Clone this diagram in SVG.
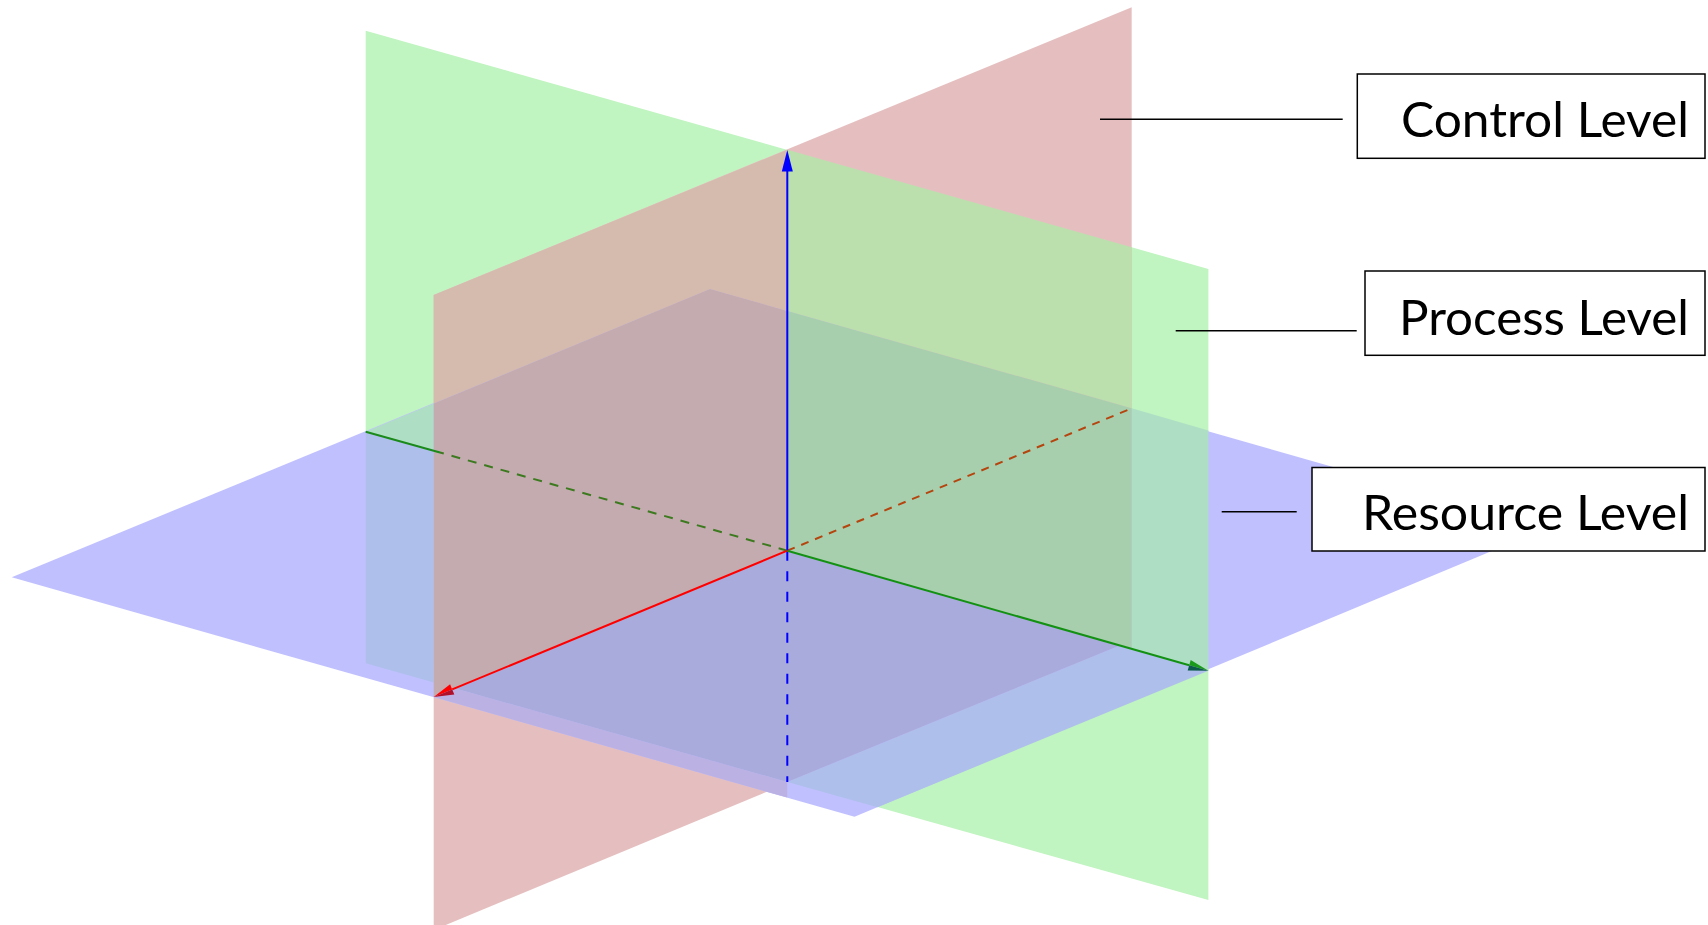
<svg xmlns="http://www.w3.org/2000/svg" width="1708" height="925" viewBox="0 0 1708 925">
<style>
.box{fill:#ffffff;stroke:#000000;stroke-width:1.5}
.lead{stroke:#000000;stroke-width:1.5;fill:none}
.lbl{font-family:Lato,"Open Sans","Liberation Sans",sans-serif;font-size:49px;fill:#000000}
.ax{fill:none;stroke-width:2}
</style>
<rect width="1708" height="925" fill="#ffffff"/>
<g id="planes">
  <polygon id="green-plane" fill="#C0F4C0" points="365.7,30.7 1208.4,269 1208.4,900 365.7,663.3"/>
  <polygon id="red-plane" fill="#E5BFC0" points="433.7,295 1131.7,7.3 1131.7,640.5 433.7,930"/>
  <polygon id="blue-plane" fill="#C0C0FF" points="11.7,577.3 710,289 1547,528 854.5,816.7"/>
  <!-- two-plane overlaps -->
  <polygon fill="#D5BBAD" points="433.7,295 787.3,149.8 787.3,310.9 710,289 433.7,403.5"/>
  <polygon fill="#BBE0AD" points="787.3,149.8 1131.7,247.3 1131.7,408.3 787.3,310.9"/>
  <polygon fill="#AEDFC4" points="365.7,431.7 433.7,403.5 433.7,450.9"/>
  <polygon fill="#AEDFC4" points="1131.7,408.3 1208.4,430.4 1208.4,670.7 1131.7,648.9"/>
  <polygon fill="#AFBFEB" points="365.7,431.7 433.7,450.9 433.7,682.4 365.7,663.3"/>
  <polygon fill="#AFBFEB" points="787.3,782 1119.7,645.4 1208.4,670.7 877.4,807.2"/>
  <polygon fill="#BCB1E3" points="433.7,697 454.7,688.3 787.3,782 787.3,797.6"/>
  <!-- three-plane overlaps -->
  <polygon fill="#C4ABB0" points="787.3,550.7 787.3,310.9 710,289 433.7,403.5 433.7,697"/>
  <polygon fill="#A8CFAD" points="787.3,550.7 787.3,310.9 1131.7,408.3 1131.7,648.9"/>
  <polygon fill="#AAABDD" points="454.7,688.3 787.3,550.7 1119.7,645.4 787.3,782"/>
</g>
<g id="axes">
  <line class="ax" x1="787.3" y1="550.7" x2="787.3" y2="782" stroke="#0000ff" stroke-dasharray="10 10.5"/>
  <line class="ax" x1="787.3" y1="550.7" x2="1131.7" y2="408.3" stroke="#b5450f" stroke-dasharray="8 7"/>
  <line class="ax" x1="787.3" y1="550.7" x2="440" y2="452.5" stroke="#3d7a1f" stroke-dasharray="9 8"/>
  <line class="ax" x1="365.7" y1="431.7" x2="440" y2="452.5" stroke="#1a8a1a"/>
  <line class="ax" x1="787.3" y1="550.7" x2="787.3" y2="171" stroke="#0000ff"/>
  <polygon points="787.3,150 781.8,171.5 792.8,171.5" fill="#0000ff"/>
  <line class="ax" x1="787.3" y1="550.7" x2="452.2" y2="689.4" stroke="#ff0000"/>
  <polygon points="433.7,697 450.1,684.3 452.2,689.4" fill="#ff0000"/>
  <polygon points="433.7,697 452.2,689.4 454.3,694.4" fill="#b0102a"/>
  <line class="ax" x1="787.3" y1="550.7" x2="1189.2" y2="665.2" stroke="#139113"/>
  <polygon points="1208.4,670.7 1190.7,659.9 1189.2,665.2" fill="#1a9a1a"/>
  <polygon points="1208.4,670.7 1189.2,665.2 1187.7,670.5" fill="#0b5a4a"/>
</g>
<g id="connectors">
  <line class="lead" x1="1100" y1="119.3" x2="1342.7" y2="119.3"/>
  <line class="lead" x1="1175.7" y1="330.7" x2="1356.7" y2="330.7"/>
  <line class="lead" x1="1221.7" y1="511.7" x2="1296.7" y2="511.7"/>
</g>
<g id="control-level">
  <rect class="box" x="1357.3" y="74" width="347.7" height="84.3"/>
  <text class="lbl" x="1401" y="137.3" textLength="288" lengthAdjust="spacingAndGlyphs">Control Level</text>
</g>
<g id="process-level">
  <rect class="box" x="1365" y="271" width="340" height="84.3"/>
  <text class="lbl" x="1399" y="335" textLength="290" lengthAdjust="spacingAndGlyphs">Process Level</text>
</g>
<g id="resource-level">
  <rect class="box" x="1312" y="467.5" width="393" height="83.5"/>
  <text class="lbl" x="1362" y="530" textLength="327" lengthAdjust="spacingAndGlyphs">Resource Level</text>
</g>
</svg>
